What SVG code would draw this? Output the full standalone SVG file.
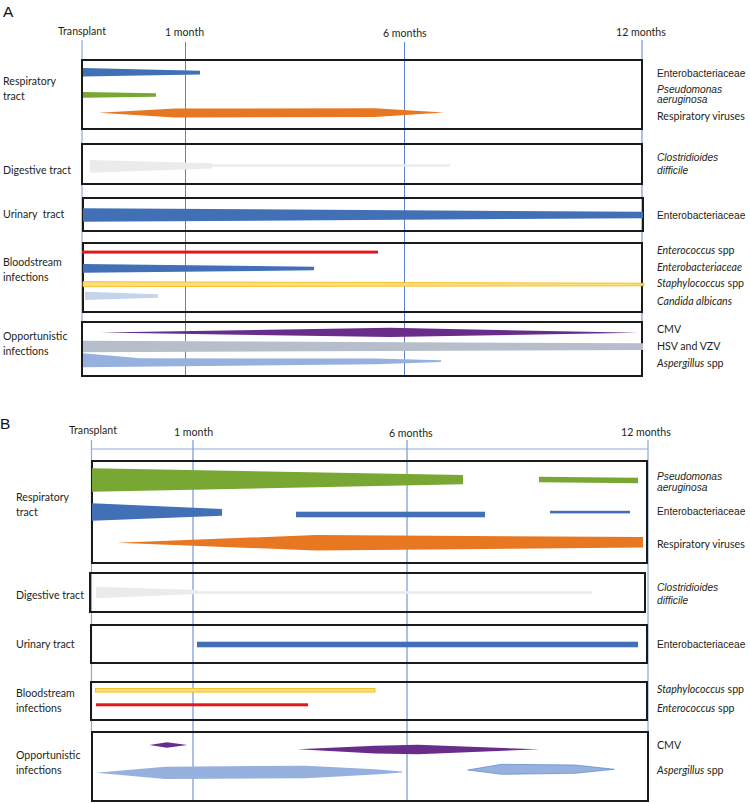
<svg xmlns="http://www.w3.org/2000/svg" width="750" height="804" viewBox="0 0 750 804">
<style>
.bg{fill:#fff}
.box{fill:none;stroke:#1a1a1a;stroke-width:2}
.ax{stroke:#5a82c8;stroke-width:1;fill:none}
.axl{stroke:#8eaadb;stroke-width:1.2;fill:none}
.cal{font-family:Lato,"Open Sans",sans-serif;font-size:10.6px;fill:#231f20}
.ari{font-family:"Liberation Sans",Arial,sans-serif;font-size:10.2px;fill:#231f20}
.it{font-style:italic}
.pl{font-family:"Liberation Sans",Arial,sans-serif;font-size:15.5px;fill:#111}
.blue{fill:#4170b6}
.green{fill:#78a833}
.orange{fill:#e87722}
.grey{fill:#ebebeb}
.red{fill:#e3151d}
.yel{fill:#fddc84;stroke:#f3b800;stroke-width:0.8}
.lblue{fill:#c4d4ef}
.purple{fill:#6a2c8a}
.hsv{fill:#b6bdcb}
.asp{fill:#96b1de}
</style>
<rect class="bg" x="0" y="0" width="750" height="804"/>

<!-- ================= PANEL A ================= -->
<text class="pl" x="3" y="16.5">A</text>
<g id="axesA">
  <text class="cal" x="58" y="34.5">Transplant</text>
  <text class="cal" x="165" y="36">1 month</text>
  <text class="cal" x="383" y="36.5">6 months</text>
  <text class="cal" x="616" y="36">12 months</text>
</g>
<g id="connectors">
  <line class="axl" x1="82" y1="40" x2="82" y2="322"/>
  <line class="ax" x1="185.5" y1="42" x2="185.5" y2="376"/>
  <line class="ax" x1="404.5" y1="42" x2="404.5" y2="376"/>
  <line class="ax" x1="642" y1="40" x2="642" y2="322"/>
  <line class="axl" x1="91.5" y1="440" x2="91.5" y2="732"/>
  <line class="ax" x1="193" y1="440" x2="193" y2="801"/>
  <line class="ax" x1="407" y1="440" x2="407" y2="801"/>
  <line class="axl" x1="648" y1="440" x2="648" y2="732"/>
  <line class="axl" x1="91.5" y1="449" x2="648" y2="449"/>
</g>

<g id="A-respiratory">
  <rect class="box" x="82" y="60" width="560" height="69"/>
  <polygon class="blue" points="83,68 200,70.8 200,74.5 83,76.5"/>
  <polygon class="green" points="83,92 156,93.3 156,96.7 83,97.7"/>
  <polygon class="orange" points="99,112.7 175,108.5 375,108.3 444,112.5 375,117 175,117.5"/>
  <text class="cal" x="3" y="85">Respiratory</text>
  <text class="cal" x="3" y="99.5">tract</text>
  <text class="ari" x="657" y="76.5">Enterobacteriaceae</text>
  <text class="ari it" x="657" y="93">Pseudomonas</text>
  <text class="ari it" x="657" y="103">aeruginosa</text>
  <text class="cal" x="657" y="119.5">Respiratory viruses</text>
</g>

<g id="A-digestive">
  <rect class="box" x="82" y="144" width="560" height="40"/>
  <polygon class="grey" points="90,160 212,163.3 212,168.5 90,172.7"/>
  <rect class="grey" x="212" y="164.3" width="238" height="2.4"/>
  <text class="cal" x="3" y="173.5">Digestive tract</text>
  <text class="ari it" x="657" y="161">Clostridioides</text>
  <text class="ari it" x="657" y="173.5">difficile</text>
</g>

<g id="A-urinary">
  <rect class="box" x="83" y="198" width="560" height="33"/>
  <polygon class="blue" points="83,208.3 643,211.7 643,218.3 83,221.7"/>
  <text class="cal" x="3" y="217.5" xml:space="preserve">Urinary  tract</text>
  <text class="ari" x="657" y="219">Enterobacteriaceae</text>
</g>

<g id="A-bloodstream">
  <rect class="box" x="83" y="243" width="559" height="69"/>
  <rect class="red" x="82" y="250.6" width="296" height="3"/>
  <polygon class="blue" points="83,264 314,266.7 314,270.3 83,272.7"/>
  <polygon class="yel" points="83,281.7 644,283.2 644,285.8 83,286.7"/>
  <polygon class="lblue" points="85,291.7 158,294.3 158,297.7 85,300"/>
  <text class="cal" x="3" y="266">Bloodstream</text>
  <text class="cal" x="3" y="281">infections</text>
  <text class="cal" x="657" y="253.5"><tspan class="it">Enterococcus</tspan> spp</text>
  <text class="cal it" x="657" y="270.5">Enterobacteriaceae</text>
  <text class="cal" x="657" y="287"><tspan class="it">Staphylococcus</tspan> spp</text>
  <text class="cal it" x="657" y="305">Candida albicans</text>
</g>

<g id="A-opportunistic">
  <rect class="box" x="82" y="322" width="560" height="54"/>
  <polygon class="purple" points="100,332.5 390,327.8 638,332.8 390,337"/>
  <polygon class="hsv" points="83,340.7 643,343.3 643,350 83,352.3"/>
  <polygon class="asp" points="83,353.3 140,358.3 375,358.5 441,360.3 441,362 375,364.3 83,367.3"/>
  <text class="cal" x="3" y="340">Opportunistic</text>
  <text class="cal" x="3" y="355">infections</text>
  <text class="cal" x="657" y="333">CMV</text>
  <text class="cal" x="657" y="350">HSV and VZV</text>
  <text class="cal" x="657" y="367"><tspan class="it">Aspergillus</tspan> spp</text>
</g>

<!-- ================= PANEL B ================= -->
<text class="pl" x="0" y="428.5">B</text>
<g id="axesB">
  <text class="cal" x="69" y="434">Transplant</text>
  <text class="cal" x="174" y="436">1 month</text>
  <text class="cal" x="389" y="437">6 months</text>
  <text class="cal" x="621" y="436">12 months</text>
</g>

<g id="B-respiratory">
  <rect class="box" x="92" y="461" width="555" height="102"/>
  <polygon class="green" points="92,468.3 463,475 463,484.3 92,491.7"/>
  <polygon class="green" points="539,476.7 638,477.7 638,483.3 539,482.3"/>
  <polygon class="blue" points="92,503.3 222,509 222,515.7 92,520.7"/>
  <rect class="blue" x="296" y="511.7" width="189" height="5.6"/>
  <rect class="blue" x="550" y="510.8" width="80" height="2.6"/>
  <polygon class="orange" points="117,542.7 316,535 643,537 643,547.5 316,550.5"/>
  <text class="cal" x="16" y="501">Respiratory</text>
  <text class="cal" x="16" y="515.5">tract</text>
  <text class="ari it" x="657" y="480">Pseudomonas</text>
  <text class="ari it" x="657" y="491">aeruginosa</text>
  <text class="ari" x="657" y="514.5">Enterobacteriaceae</text>
  <text class="cal" x="657" y="547.5">Respiratory viruses</text>
</g>

<g id="B-digestive">
  <rect class="box" x="90" y="573" width="555" height="39"/>
  <polygon class="grey" points="96,586.7 198,590 198,594 96,598.3"/>
  <rect class="grey" x="198" y="591.2" width="394" height="2.6"/>
  <text class="cal" x="16" y="599">Digestive tract</text>
  <text class="ari it" x="657" y="591">Clostridioides</text>
  <text class="ari it" x="657" y="603.5">difficile</text>
</g>

<g id="B-urinary">
  <rect class="box" x="91" y="625" width="556" height="38"/>
  <rect class="blue" x="197" y="641.7" width="441" height="5.6"/>
  <text class="cal" x="16" y="648">Urinary tract</text>
  <text class="ari" x="657" y="648">Enterobacteriaceae</text>
</g>

<g id="B-bloodstream">
  <rect class="box" x="91" y="682" width="556" height="38"/>
  <rect class="yel" x="95.5" y="688.5" width="279.5" height="3.6"/>
  <rect class="red" x="96" y="703.3" width="212" height="3"/>
  <text class="cal" x="16" y="697">Bloodstream</text>
  <text class="cal" x="16" y="711.5">infections</text>
  <text class="cal" x="657" y="692.5"><tspan class="it">Staphylococcus</tspan> spp</text>
  <text class="cal" x="657" y="712"><tspan class="it">Enterococcus</tspan> spp</text>
</g>

<g id="B-opportunistic">
  <rect class="box" x="92" y="732" width="556" height="69"/>
  <polygon class="purple" points="149.3,745 167,742.2 187.3,745 167,747.8"/>
  <polygon class="purple" points="297.7,749.3 375,745.8 418,744.8 539.3,749.3 418,754.3 375,753.5"/>
  <polygon class="asp" points="96,772.7 165,766.7 306,765.7 375,769.2 402.3,771.5 402.3,772.5 375,774.5 306,778.3 165,779"/>
  <polygon class="asp" style="stroke:#5b88cc;stroke-width:0.7" points="467.7,770 501.7,764.3 575,765 614.3,769.3 575,773.3 501.7,774.3"/>
  <text class="cal" x="16" y="759">Opportunistic</text>
  <text class="cal" x="16" y="773.5">infections</text>
  <text class="cal" x="657" y="748.5">CMV</text>
  <text class="cal" x="657" y="773.5"><tspan class="it">Aspergillus</tspan> spp</text>
</g>
</svg>
